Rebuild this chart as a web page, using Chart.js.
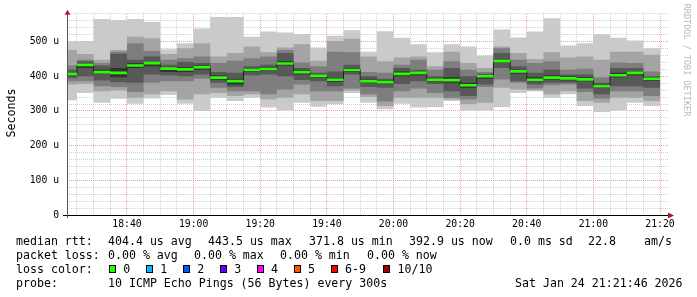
<!DOCTYPE html>
<html>
<head>
<meta charset="utf-8">
<script src="https://cdn.jsdelivr.net/npm/chart.js@4.4.1/dist/chart.umd.min.js"></script>
<style>
    html, body { margin: 0; padding: 0; background: #fff; }
    #wrap { position: relative; width: 697px; height: 297px; overflow: hidden; }
    #chart { position: absolute; left: 0; top: 0; }
    .txt { position: absolute; font-family: "DejaVu Sans Mono", monospace; font-size: 11.6px; line-height: 14px; color: #000; white-space: pre; }
    .box { position: absolute; box-sizing: border-box; width: 7px; height: 8px; border: 1px solid #000; }
    #ytitle { position: absolute; left: -19px; top: 106px; width: 60px; height: 14px; text-align: center; transform: rotate(-90deg); }
    #credit { position: absolute; left: 627px; top: 55px; width: 120px; height: 10px; line-height: 10px; text-align: center;
              transform: rotate(90deg); font-family: "DejaVu Sans Mono", monospace; font-size: 8.5px; color: #b8b8b8; white-space: pre; }
</style>
</head>
<body>
<div id="wrap">
    <canvas id="chart" width="697" height="297"></canvas>
    <div id="ytitle" class="txt">Seconds</div>
    <div id="credit">RRDTOOL / TOBI OETIKER</div>
</div>
<script>
// 5-minute bins, minutes after 18:00 (first bin is partly left of the graph)
const firstBin = 20;
const binMinutes = 5;

// the 10 pings of each bin, sorted, in microseconds (ping1 = fastest)
const ping1  = [331, 352, 324, 335, 321, 336, 346, 321, 300, 338, 329, 338, 310, 302, 324, 312, 319, 352, 324, 305, 321, 310, 311, 329, 302, 302, 311, 352, 357, 338, 348, 314, 297, 302, 324, 314];
const ping2  = [376, 378, 357, 359, 338, 348, 357, 333, 348, 352, 343, 348, 333, 338, 348, 329, 329, 359, 340, 314, 338, 338, 338, 333, 319, 324, 367, 362, 359, 348, 357, 329, 324, 338, 338, 329];
const ping3  = [386, 386, 371, 369, 355, 381, 386, 386, 393, 367, 357, 357, 348, 362, 376, 357, 357, 365, 348, 327, 357, 365, 352, 338, 333, 369, 391, 381, 365, 374, 376, 355, 336, 357, 357, 343];
const ping4  = [395, 400, 388, 383, 381, 405, 403, 400, 405, 381, 369, 403, 405, 400, 389, 386, 371, 405, 369, 367, 378, 386, 378, 357, 343, 376, 424, 386, 376, 381, 381, 365, 348, 371, 371, 367];
const ping5  = [403, 424, 407, 397, 424, 429, 412, 412, 419, 390, 376, 412, 416, 431, 405, 395, 384, 412, 381, 378, 400, 403, 386, 381, 367, 393, 438, 407, 386, 391, 388, 386, 369, 397, 403, 388];
const ping6  = [412, 438, 419, 424, 438, 441, 426, 426, 431, 403, 393, 422, 426, 443, 418, 405, 395, 424, 393, 388, 414, 414, 395, 397, 381, 403, 448, 419, 397, 403, 399, 397, 378, 410, 414, 397];
const ping7  = [419, 443, 431, 465, 448, 457, 433, 441, 438, 412, 410, 429, 433, 467, 424, 410, 414, 433, 400, 393, 424, 419, 400, 424, 400, 407, 467, 429, 410, 419, 405, 405, 381, 424, 424, 400];
const ping8  = [431, 448, 438, 471, 495, 473, 448, 452, 457, 438, 445, 452, 457, 476, 440, 429, 471, 469, 412, 410, 433, 448, 419, 443, 419, 412, 481, 448, 438, 443, 419, 422, 397, 440, 438, 414];
const ping9  = [476, 464, 448, 476, 514, 510, 464, 481, 495, 457, 467, 486, 469, 483, 492, 445, 502, 508, 457, 443, 454, 457, 429, 471, 438, 424, 486, 467, 450, 469, 454, 457, 448, 471, 471, 462];
const ping10 = [502, 502, 565, 562, 565, 557, 478, 495, 538, 571, 571, 514, 529, 526, 522, 483, 517, 533, 471, 530, 511, 492, 469, 492, 486, 460, 535, 512, 529, 567, 489, 495, 521, 511, 503, 481];
const medianRtt = [407, 433, 412, 410, 431, 438, 422, 420, 426, 396, 386, 418, 421, 437, 412, 401, 390, 418, 386, 383, 407, 410, 390, 389, 374, 400, 443.5, 414, 390, 396, 394, 391, 371.8, 403, 410, 392.9];

// legend texts
const rttStats  = ['404.4 us avg', '443.5 us max', '371.8 us min', '392.9 us now', '0.0 ms sd', '22.8', 'am/s'];
const lossStats = ['0.00 % avg', '0.00 % max', '0.00 % min', '0.00 % now'];
const lossLabels = ['0', '1', '2', '3', '4', '5', '6-9', '10/10'];
const lossColors = ['#26ff00', '#00b8ff', '#0059ff', '#5e00ff', '#ff00ff', '#ff5500', '#ff0000', '#a10000'];
const probeText = '10 ICMP Echo Pings (56 Bytes) every 300s';
const stampText = 'Sat Jan 24 21:21:46 2026';

const smokeGrays = ['#cacaca', '#a4a4a4', '#7e7e7e', '#585858', '#323232'];
const MAJOR = 'rgba(225, 120, 120, 0.7)';
const MINOR = 'rgba(150, 150, 150, 0.45)';
const MONO = '"DejaVu Sans Mono", monospace';

// step points: each value holds for its bin, last value repeated at the end
function steps(vals) {
    const pts = vals.map((v, i) => ({ x: firstBin + i * binMinutes, y: v }));
    pts.push({ x: firstBin + vals.length * binMinutes, y: vals[vals.length - 1] });
    return pts;
}

function hhmm(m) {
    const h = 18 + Math.floor(m / 60);
    const mm = m % 60;
    return h + ':' + (mm < 10 ? '0' : '') + mm;
}

const lows = [ping1, ping2, ping3, ping4, ping5];
const highs = [ping10, ping9, ping8, ping7, ping6];
const datasets = [];
lows.forEach((low, i) => {
    datasets.push({ data: steps(low), borderColor: 'transparent', borderWidth: 0, fill: false });
    datasets.push({ data: steps(highs[i]), borderColor: 'transparent', borderWidth: 0,
                    backgroundColor: smokeGrays[i], fill: datasets.length - 1 });
});
datasets.push({ data: steps(medianRtt), borderColor: '#202020', borderWidth: 1, fill: false });
const halfBand = 3.8;
datasets.push({ data: steps(medianRtt.map(v => v - halfBand)), borderColor: 'transparent', borderWidth: 0, fill: false });
datasets.push({ data: steps(medianRtt.map(v => v + halfBand)), borderColor: 'transparent', borderWidth: 0,
                backgroundColor: lossColors[0], fill: datasets.length - 1 });
datasets.forEach((ds, i) => {
    ds.order = 50 - i;
    ds.stepped = true;
    ds.pointRadius = 0;
    ds.tension = 0;
});

// axis arrows like rrdtool draws them
const arrows = {
    id: 'arrows',
    afterDraw(chart) {
        const { ctx, chartArea: a } = chart;
        ctx.save();
        ctx.strokeStyle = '#000';
        ctx.lineWidth = 1;
        ctx.beginPath();
        ctx.moveTo(63, a.bottom + 0.5);
        ctx.lineTo(a.right + 2, a.bottom + 0.5);
        ctx.stroke();
        ctx.strokeStyle = '#555';
        ctx.beginPath();
        ctx.moveTo(a.left + 0.5, a.top - 2);
        ctx.lineTo(a.left + 0.5, a.bottom + 3);
        ctx.stroke();
        ctx.fillStyle = '#a0202a';
        ctx.beginPath();
        ctx.moveTo(a.right, a.bottom - 2.5);
        ctx.lineTo(a.right + 6, a.bottom + 0.5);
        ctx.lineTo(a.right, a.bottom + 3.5);
        ctx.closePath();
        ctx.fill();
        ctx.beginPath();
        ctx.moveTo(a.left - 2.5, a.top + 1);
        ctx.lineTo(a.left + 0.5, a.top - 4);
        ctx.lineTo(a.left + 3.5, a.top + 1);
        ctx.closePath();
        ctx.fill();
        ctx.restore();
    }
};

new Chart(document.getElementById('chart'), {
    type: 'line',
    data: { datasets: datasets },
    options: {
        responsive: false,
        animation: false,
        devicePixelRatio: 1,
        layout: { padding: { left: 0, right: 29, top: 12, bottom: 0 } },
        plugins: { legend: { display: false }, tooltip: { enabled: false } },
        scales: {
            x: {
                type: 'linear',
                min: 22,
                max: 202.4,
                z: 1,
                afterFit: s => { s.height = 82; },
                grid: {
                    drawTicks: false,
                    color: c => (c.tick && c.tick.value % 20 === 0) ? MAJOR : MINOR
                },
                border: { display: false, dash: [1, 1] },
                ticks: {
                    stepSize: 5,
                    includeBounds: false,
                    autoSkip: false,
                    maxRotation: 0,
                    padding: 4,
                    color: '#000',
                    font: { family: MONO, size: 9.75 },
                    callback: v => v % 20 === 0 ? hhmm(v) : ''
                }
            },
            y: {
                min: 0,
                max: 580,
                z: 1,
                afterFit: s => { s.width = 67; },
                grid: {
                    drawTicks: false,
                    color: c => (c.tick && c.tick.value % 100 === 0) ? MAJOR : MINOR
                },
                border: { display: false, dash: [1, 1] },
                ticks: {
                    stepSize: 20,
                    autoSkip: false,
                    padding: 8,
                    color: '#000',
                    font: { family: MONO, size: 9.75 },
                    callback: v => v % 100 === 0 ? (v === 0 ? '0' : v + ' u') : ''
                }
            }
        }
    },
    plugins: [arrows]
});

// rrdtool style legend under the graph
const wrap = document.getElementById('wrap');
function put(text, x, baseline) {
    const d = document.createElement('div');
    d.className = 'txt';
    d.textContent = text;
    d.style.left = x + 'px';
    d.style.top = (baseline - 11) + 'px';
    wrap.appendChild(d);
    return d;
}
const rowBase = [245.3, 259, 272.7, 286.5];
put('median rtt:', 16, rowBase[0]);
[108, 208, 309, 409, 510, 588, 644].forEach((x, i) => put(rttStats[i], x, rowBase[0]));
put('packet loss:', 16, rowBase[1]);
[108, 194, 280, 367].forEach((x, i) => put(lossStats[i], x, rowBase[1]));
put('loss color:', 16, rowBase[2]);
[108.7, 145.7, 182.7, 219.7, 256.5, 293.5, 330.5, 383].forEach((x, i) => {
    const b = document.createElement('div');
    b.className = 'box';
    b.style.left = x + 'px';
    b.style.top = '265px';
    b.style.background = lossColors[i];
    wrap.appendChild(b);
    put(lossLabels[i], x + 14.5, rowBase[2]);
});
put('probe:', 16, rowBase[3]);
put(probeText, 108, rowBase[3]);
put(stampText, 515, rowBase[3]);
</script>
</body>
</html>
